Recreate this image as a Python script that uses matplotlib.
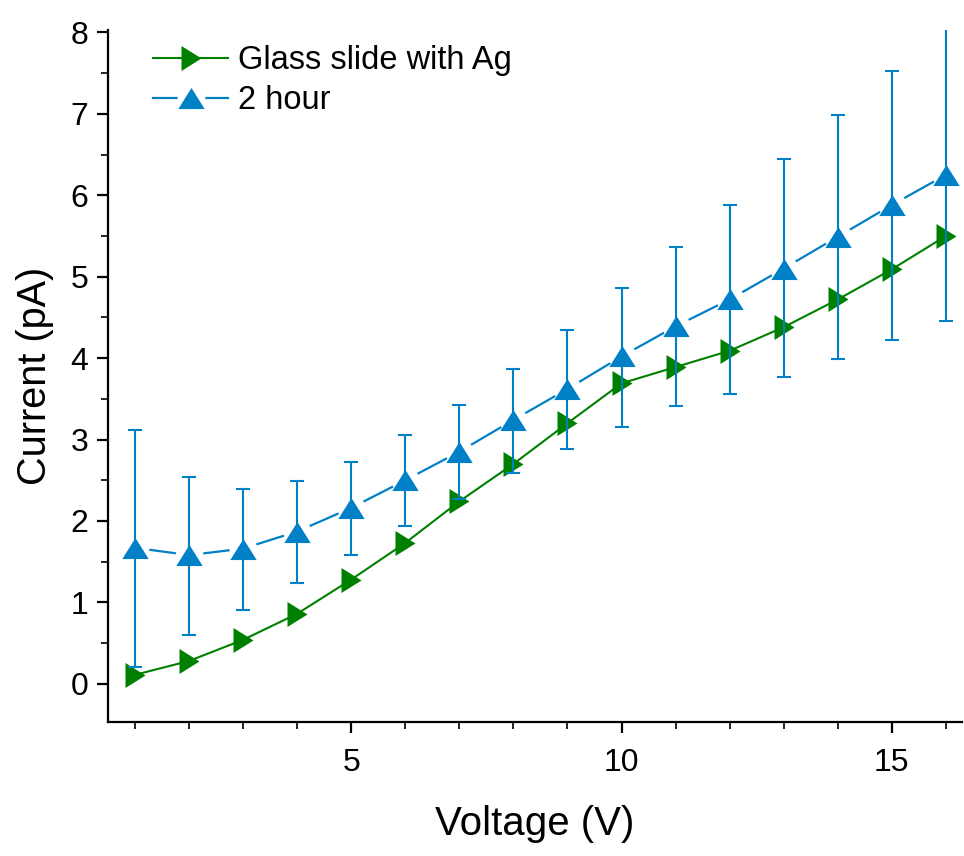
import numpy as np
import matplotlib
matplotlib.use("Agg")
import matplotlib.pyplot as plt
from matplotlib.ticker import MultipleLocator
from matplotlib.legend_handler import HandlerTuple
from matplotlib.lines import Line2D

plt.rcParams['font.family'] = ['Liberation Sans', 'DejaVu Sans']

voltage = [1, 2, 3, 4, 5, 6, 7, 8, 9, 10, 11, 12, 13, 14, 15, 16]
glass_ag = [0.11, 0.28, 0.54, 0.86, 1.28, 1.73, 2.24, 2.70, 3.20, 3.69, 3.89, 4.09, 4.38, 4.72, 5.09, 5.50]
two_hour = [1.67, 1.58, 1.66, 1.87, 2.16, 2.50, 2.85, 3.24, 3.62, 4.02, 4.39, 4.72, 5.10, 5.49, 5.88, 6.25]
err_upper = [3.12, 2.54, 2.39, 2.49, 2.72, 3.06, 3.42, 3.87, 4.34, 4.86, 5.36, 5.88, 6.44, 6.99, 7.53, 8.30]
err_lower = [0.20, 0.60, 0.90, 1.24, 1.58, 1.94, 2.27, 2.59, 2.88, 3.15, 3.41, 3.56, 3.77, 3.99, 4.22, 4.46]

green = '#008000'
blue = '#0080C6'

tri_up = [(-1, -0.8), (1, -0.8), (0, 0.8), (-1, -0.8)]
tri_right = [(-0.8, -1), (-0.8, 1), (0.8, 0), (-0.8, -1)]

fig = plt.figure(figsize=(9.64, 8.56), dpi=100)
ax = fig.add_axes([0.112, 0.1565, 0.886, 0.8085])

two = np.array(two_hour)
yerr = np.array([two - np.array(err_lower), np.array(err_upper) - two])

# green series (below blue)
ax.plot(voltage, glass_ag, color=green, lw=1.5, marker=tri_right, ms=18,
        markerfacecolor=green, markeredgewidth=0, zorder=2)

# blue series: line, white halo to create the gap, error bars, markers
ax.plot(voltage, two_hour, color=blue, lw=1.6, zorder=3)
ax.plot(voltage, two_hour, ls='none', marker='o', ms=20,
        markerfacecolor='white', markeredgewidth=0, zorder=3.1)
ax.errorbar(voltage, two_hour, yerr=yerr, fmt='none', ecolor=blue,
            elinewidth=1.5, capsize=5, capthick=1.5, zorder=3.2)
ax.plot(voltage, two_hour, ls='none', marker=tri_up, ms=19,
        markerfacecolor=blue, markeredgewidth=0, zorder=3.3)

ax.set_xlim(0.5, 16.3)
ax.set_ylim(-0.47, 8.03)
ax.xaxis.set_major_locator(MultipleLocator(5))
ax.xaxis.set_minor_locator(MultipleLocator(1))
ax.yaxis.set_major_locator(MultipleLocator(1))
ax.yaxis.set_minor_locator(MultipleLocator(0.5))

for s in ['top', 'right']:
    ax.spines[s].set_visible(False)
for s in ['left', 'bottom']:
    ax.spines[s].set_linewidth(1.6)

ax.tick_params(which='major', direction='out', length=8, width=1.6, labelsize=23)
ax.tick_params(axis='x', which='major', pad=11)
ax.tick_params(axis='y', which='major', pad=6)
ax.tick_params(which='minor', direction='out', length=5, width=1.2)

ax.set_xlabel('Voltage (V)', fontsize=29, labelpad=19)
ax.set_ylabel('Current (pA)', fontsize=28.5, labelpad=12)

h_green = Line2D([], [], color=green, lw=1.5, marker=tri_right, ms=18,
                 markerfacecolor=green, markeredgewidth=0)
h_bline = Line2D([], [], color=blue, lw=1.6)
h_bhalo = Line2D([], [], ls='none', marker='o', ms=20,
                 markerfacecolor='white', markeredgewidth=0)
h_bmark = Line2D([], [], ls='none', marker=tri_up, ms=19,
                 markerfacecolor=blue, markeredgewidth=0)

ax.legend([h_green, (h_bline, h_bhalo, h_bmark)], ['Glass slide with Ag', '2 hour'],
          handler_map={tuple: HandlerTuple(ndivide=1, pad=0)},
          loc='upper left', frameon=False, fontsize=23.5,
          handlelength=2.3, handletextpad=0.3, borderpad=0, borderaxespad=0,
          bbox_to_anchor=(0.053, 0.978), labelspacing=0.28)

fig.savefig('out.png', dpi=100)
